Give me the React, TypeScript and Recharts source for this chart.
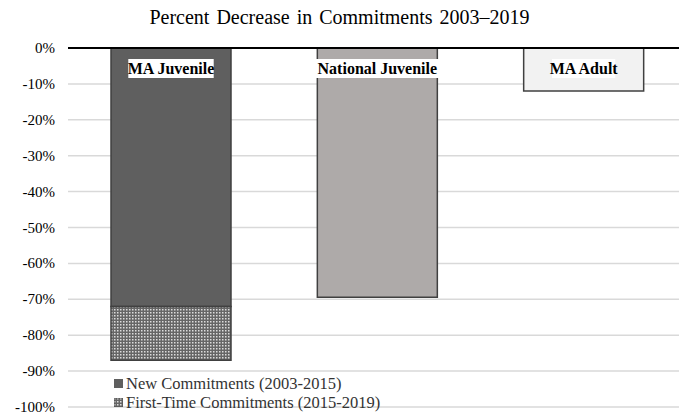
import React from 'react';
import { BarChart, Bar, XAxis, YAxis, CartesianGrid, ReferenceLine, LabelList, Cell } from 'recharts';

const groups = ['MA Juvenile', 'National Juvenile', 'MA Adult'];
const newCommitments = [-72, -69.4, -12];
const firstTime = [-15, 0, 0];
const yTicks = [0, -10, -20, -30, -40, -50, -60, -70, -80, -90, -100];
const barColors = ['#5f5f5f', '#aeaaa9', '#f2f2f2'];

const data = groups.map((name, i) => ({
  name,
  newC: newCommitments[i],
  first: firstTime[i],
}));

const FONT = '"Liberation Serif", "Times New Roman", serif';

const GroupLabel = (props: any) => {
  const { x, y, width, height, index } = props;
  const label = groups[index];
  const w = label.length * 7.4 + 4;
  const cx = x + width / 2;
  const top = Math.min(y, y + height);
  return (
    <g>
      <rect x={cx - w / 2} y={top + 11} width={w} height={19} fill="#fff" />
      <text x={cx} y={top + 26} textAnchor="middle" fontFamily={FONT} fontWeight="bold" fontSize={16} fill="#000">
        {label}
      </text>
    </g>
  );
};

const YTick = (props: any) => {
  const { x, y, payload } = props;
  return (
    <text x={x - 5} y={y + 5} textAnchor="end" fontFamily={FONT} fontSize={15} fill="#000">
      {`${payload.value}%`}
    </text>
  );
};

export default function App() {
  return (
    <div style={{ position: 'absolute', left: 0, top: 0, width: 679, height: 414, background: '#fff', overflow: 'hidden' }}>
      <div style={{ position: 'absolute', top: 6, width: 679, textAlign: 'center', fontFamily: FONT, fontSize: 20, wordSpacing: 2, color: '#000' }}>
        Percent Decrease in Commitments 2003–2019
      </div>
      <BarChart width={679} height={414} data={data} margin={{ top: 48, right: -8, bottom: 7, left: 0 }} barSize={120}>
        <defs>
          <pattern id="checker" width={3} height={3} patternUnits="userSpaceOnUse">
            <rect width={3} height={3} fill="#666" />
            <rect x={0} y={0} width={1.5} height={1.5} fill="#dcdcdc" />
          </pattern>
        </defs>
        <CartesianGrid vertical={false} stroke="#d9d9d9" strokeWidth={1.5} />
        <XAxis dataKey="name" hide />
        <YAxis
          domain={[-100, 0]}
          ticks={yTicks}
          interval={0}
          width={68}
          axisLine={false}
          tickLine={false}
          tick={<YTick />}
        />
        <Bar dataKey="newC" stackId="a" stroke="#404040" strokeWidth={1.5} isAnimationActive={false}>
          {data.map((d, i) => (
            <Cell key={d.name} fill={barColors[i]} />
          ))}
          <LabelList dataKey="newC" content={<GroupLabel />} />
        </Bar>
        <Bar dataKey="first" stackId="a" fill="url(#checker)" stroke="#404040" strokeWidth={1.5} isAnimationActive={false} />
        <ReferenceLine y={0} stroke="#000" strokeWidth={2} />
      </BarChart>
      <div style={{ position: 'absolute', left: 114, top: 374, fontFamily: FONT, fontSize: 16.5, color: '#333', lineHeight: '19px' }}>
        <div style={{ display: 'flex', alignItems: 'center' }}>
          <span style={{ width: 9, height: 9, background: '#5f5f5f', marginRight: 3, display: 'inline-block' }} />
          New Commitments (2003-2015)
        </div>
        <div style={{ display: 'flex', alignItems: 'center' }}>
          <svg width={9} height={9} style={{ marginRight: 3 }}>
            <rect width={9} height={9} fill="url(#checker)" stroke="#555" strokeWidth={1} />
          </svg>
          First-Time Commitments (2015-2019)
        </div>
      </div>
    </div>
  );
}
